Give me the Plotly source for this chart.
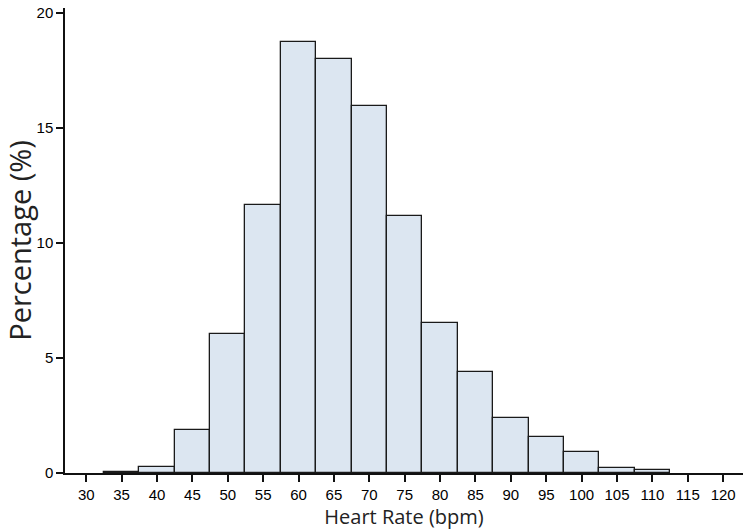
import plotly.graph_objects as go

bin_centers = [35, 40, 45, 50, 55, 60, 65, 70, 75, 80, 85, 90, 95, 100, 105, 110]
percentages = [0.04, 0.27, 1.85, 6.05, 11.65, 18.72, 17.98, 15.93, 11.18, 6.53, 4.37, 2.37, 1.58, 0.93, 0.2, 0.15]
x_ticks = list(range(30, 125, 5))
y_ticks = [0, 5, 10, 15, 20]

fig = go.Figure()
fig.add_trace(go.Bar(
    x=bin_centers, y=percentages, width=5,
    marker=dict(color="#dce6f1", line=dict(color="#1a1a1a", width=1.3)),
))

fig.update_layout(
    width=751, height=532,
    margin=dict(l=65, r=8, t=8, b=59),
    plot_bgcolor="white", paper_bgcolor="white",
    showlegend=False, bargap=0,
    xaxis=dict(
        range=[27, 122.8], tickmode="array", tickvals=x_ticks,
        ticktext=[str(v) for v in x_ticks],
        showline=True, linecolor="#111", linewidth=1.5,
        ticks="outside", ticklen=7, tickwidth=1.5, tickcolor="#111",
        showgrid=False, zeroline=False, automargin=False,
        tickfont=dict(family="Liberation Sans, Arial", size=15, color="#000"),
        title=dict(text="Heart Rate (bpm)", font=dict(family="Open Sans", size=20, color="#222"), standoff=2),
    ),
    yaxis=dict(
        range=[0, 20.2], tickmode="array", tickvals=y_ticks,
        showline=True, linecolor="#111", linewidth=1.5,
        ticks="outside", ticklen=7, tickwidth=1.5, tickcolor="#111",
        showgrid=False, zeroline=False, automargin=False,
        tickfont=dict(family="Liberation Sans, Arial", size=15, color="#000"),
        title=dict(text="Percentage (%)", font=dict(family="Open Sans", size=29, color="#222"), standoff=8),
    ),
)

fig.write_html("out.html", config={"displayModeBar": False},
               post_script="document.body.style.margin='0';")
